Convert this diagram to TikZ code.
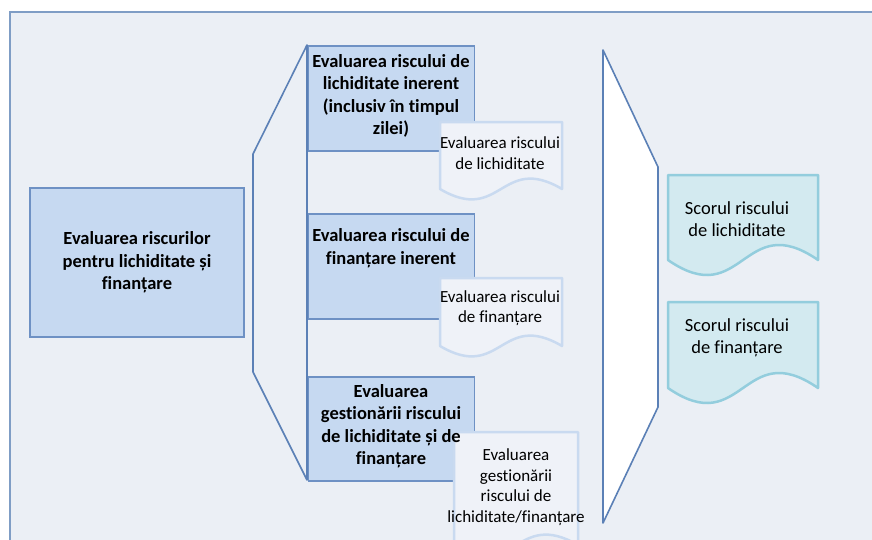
\documentclass[tikz,border=0pt]{standalone}
\usepackage{fontspec}
\setmainfont{Carlito}[Ligatures=NoCommon]
\definecolor{bgfill}{HTML}{EBEFF5}
\definecolor{bgline}{HTML}{7F9DC5}
\definecolor{boxfill}{HTML}{C6D9F1}
\definecolor{boxline}{HTML}{6E91C4}
\definecolor{shapeline}{HTML}{5B80B6}
\definecolor{docline}{HTML}{C9DAF0}
\definecolor{docfill}{HTML}{EFF2F8}
\definecolor{scorefill}{HTML}{D3EAF0}
\definecolor{scoreline}{HTML}{93CDDD}

% document shape: style, left, top, right, corner height, wave
\newcommand{\docshape}[6]{%
  \draw[#1] (#2,#3) -- (#4,#3) -- (#4,#5)
    .. controls ({(#2+#4)/2},{#5-#6}) and ({(#2+#4)/2},{#5+#6}) .. (#2,#5) -- cycle;}

\begin{document}
\begin{tikzpicture}
	[x=1pt,y=-1pt,
	box/.style={rectangle,draw=boxline,fill=boxfill,line width=1.5pt,inner sep=0pt},
	boxtext/.style={align=center,font=\bfseries\fontsize{18.5}{22.5}\selectfont},
	doc/.style={draw=docline,fill=docfill,line width=2.5pt,line join=round},
	doctext/.style={align=center,font=\fontsize{17}{20.5}\selectfont},
	score/.style={draw=scoreline,fill=scorefill,line width=2.5pt,line join=round},
	scoretext/.style={align=center,font=\fontsize{18.5}{22.5}\selectfont},
	frame/.style={draw=shapeline,line width=1.6pt,line join=round}]
	\useasboundingbox (0,0) rectangle (872,539);
	\draw[draw=bgline,fill=bgfill,line width=2.5pt] (10,12) rectangle (900,570);
	
	\node[box,minimum width=214pt,minimum height=149pt] (main) at (137,262.5) {};
	\node[boxtext] (maintext) at (main) {Evaluarea riscurilor\\pentru lichiditate și\\finanțare};
	
	% bracket towards the three assessments
	\draw[frame,fill=bgfill] (307,45) -- (253,154) -- (253,372) -- (307,480) -- cycle;
	\node[box,anchor=north west,minimum width=166pt,minimum height=105pt] (b1) at (307.5,45) {};
	\node[box,anchor=north west,minimum width=166pt,minimum height=105pt] (b2) at (307.5,213) {};
	\node[box,anchor=north west,minimum width=166pt,minimum height=104pt] (b3) at (307.5,376) {};
	
	\docshape{doc}{440}{122}{562}{189}{36}
	\docshape{doc}{440}{278}{562}{346}{36}
	\docshape{doc}{454}{432}{578}{545}{36}
	
	\node[boxtext] (t1) at (391,96) {Evaluarea riscului de\\lichiditate inerent\\(inclusiv în timpul\\zilei)};
	\node[boxtext] (t2) at (391,248) {Evaluarea riscului de\\finanțare inerent};
	\node[boxtext] (t3) at (391,426) {Evaluarea\\gestionării riscului\\de lichiditate și de\\finanțare};
	
	\node[doctext] (d1) at (500,153) {Evaluarea riscului\\de lichiditate};
	\node[doctext] (d2) at (500,308) {Evaluarea riscului\\de finanțare};
	\node[doctext] (d3) at (516,487) {Evaluarea\\gestionării\\riscului de\\lichiditate/finanțare};
	
	% funnel into the scores
	\draw[frame,fill=white] (603,50) -- (658,167) -- (658,407) -- (603,523) -- cycle;
	
	\docshape{score}{668}{175}{818}{260}{52}
	\docshape{score}{668}{302}{818}{388}{52}
	\node[scoretext] (s1) at (737,219) {Scorul riscului\\de lichiditate};
	\node[scoretext] (s2) at (737,338) {Scorul riscului\\de finanțare};
\end{tikzpicture}
\end{document}
